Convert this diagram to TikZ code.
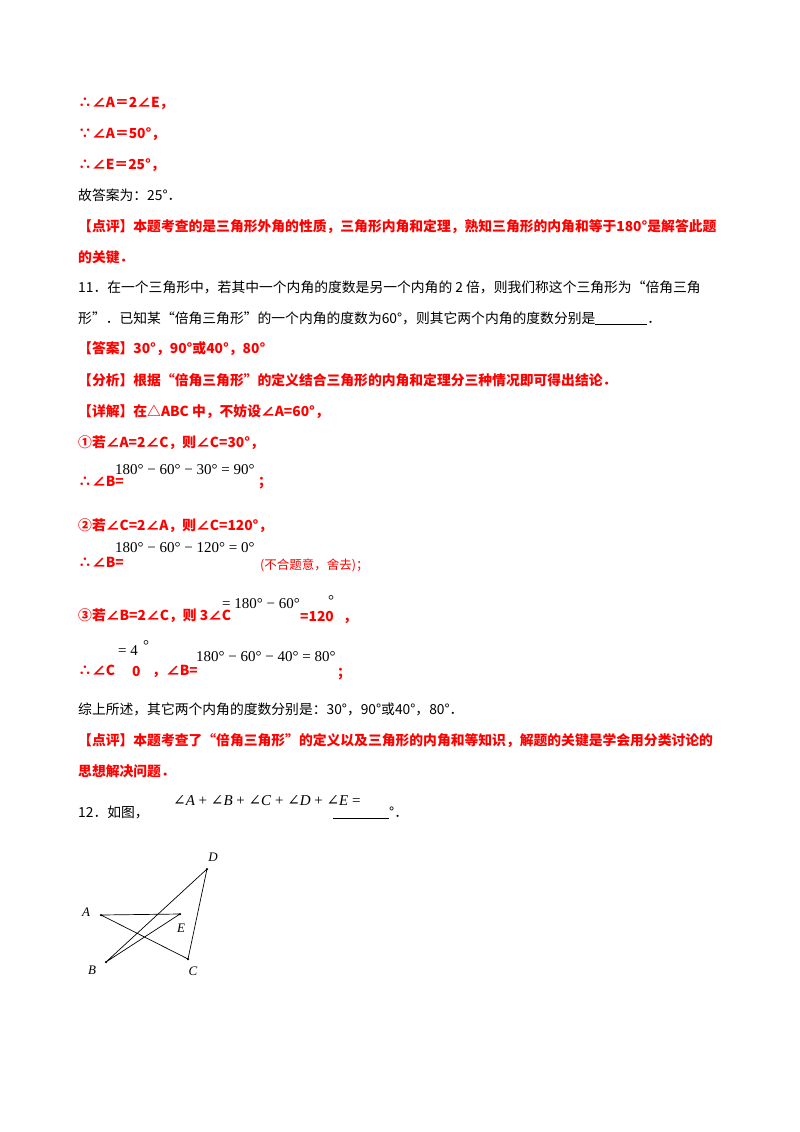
\documentclass[tikz,border=0pt]{standalone}
\usepackage{fontspec}
\setmainfont{Noto Sans CJK SC}
\newfontfamily\tms{Liberation Serif}
\newfontfamily\djs{DejaVu Serif}
\newcommand{\ang}{{\djs\fontsize{15}{17}\selectfont ∠}}
\begin{document}
\begin{tikzpicture}[x=1pt,y=-1pt,
 t/.style={anchor=base west,inner sep=0pt,font=\fontsize{13.8}{16}\selectfont},
 r/.style={t,text=red,font=\fontsize{13.8}{16}\selectfont\bfseries},
 m/.style={anchor=base west,inner sep=0pt,font=\tms\fontsize{15}{18}\selectfont},
 pt/.style={circle,fill,inner sep=0pt,minimum size=2.5pt},
 lb/.style={inner sep=0pt,font=\tms\itshape\fontsize{13}{15}\selectfont}]
\useasboundingbox (0,0) rectangle (800,1132);
\node[r] (l1) at (78,107) {∴∠\textit{A}＝2∠\textit{E}，};
\node[r] (l2) at (78,138) {∵∠\textit{A}＝50°，};
\node[r] (l3) at (78,169) {∴∠\textit{E}＝25°，};
\node[t] (l4) at (78,200) {故答案为：25°．};
\node[r] (l5) at (78,231) {【点评】本题考查的是三角形外角的性质，三角形内角和定理，熟知三角形的内角和等于180°是解答此题};
\node[r] (l6) at (78,262) {的关键．};
\node[t] (q1) at (78,292) {11．在一个三角形中，若其中一个内角的度数是另一个内角的 2 倍，则我们称这个三角形为“倍角三角};
\node[t] (q2) at (78,323) {形”．已知某“倍角三角形”的一个内角的度数为60°，则其它两个内角的度数分别是\rule[-2pt]{52pt}{0.8pt}．};
\node[r] (a1) at (78,353) {【答案】30°，90°或40°，80°};
\node[r] (a2) at (78,385) {【分析】根据“倍角三角形”的定义结合三角形的内角和定理分三种情况即可得出结论．};
\node[r] (a3) at (78,416) {【详解】在△ABC 中，不妨设∠A=60°，};
\node[r] (a4) at (78,447) {①若∠A=2∠C，则∠C=30°，};
\node[m] (f1) at (115,474) {180° − 60° − 30° = 90°};
\node[r] (a5) at (78,486) {∴∠B=};
\node[r] (a5b) at (258,486) {；};
\node[r] (a6) at (78,530) {②若∠C=2∠A，则∠C=120°，};
\node[m] (f2) at (115,552) {180° − 60° − 120° = 0°};
\node[r] (a7) at (78,567) {∴∠B=};
\node[t,text=red,font=\fontsize{12.5}{15}\selectfont] (a7b) at (260,569) {(不合题意，舍去)；};
\node[m] (f3) at (222,608) {= 180° − 60°};
\node[r] (a8) at (78,620) {③若∠B=2∠C，则 3∠C};
\node[r] (a8b) at (300,621) {=120};
\node[m] (a8c) at (328,605) {°};
\node[r] (a8d) at (343,621) {，};
\node[r] (a9) at (78,675) {∴∠C};
\node[m] (f4) at (118,655) {= 4};
\node[r] (a9b) at (132,676) {0};
\node[m] (a9c) at (143,650) {°};
\node[r] (a9d) at (152,675) {，∠B=};
\node[m] (f5) at (196,661) {180° − 60° − 40° = 80°};
\node[r] (a9e) at (337,677) {；};
\node[t] (s1) at (78,714) {综上所述，其它两个内角的度数分别是：30°，90°或40°，80°．};
\node[r] (s2) at (78,745) {【点评】本题考查了“倍角三角形”的定义以及三角形的内角和等知识，解题的关键是学会用分类讨论的};
\node[r] (s3) at (78,776) {思想解决问题．};
\node[t] (q12) at (78,817) {12．如图，};
\node[m] (f6) at (173,805) {\ang\textit{A} + \ang\textit{B} + \ang\textit{C} + \ang\textit{D} + \ang\textit{E} =};
\node[t] (q12b) at (333,817) {\rule[-2pt]{56pt}{0.8pt}°．};
\node[pt] (A) at (101,915) {};
\node[pt] (E) at (180,914) {};
\node[pt] (D) at (207,869) {};
\node[pt] (B) at (106,962) {};
\node[pt] (C) at (188,959) {};
\draw[line width=0.7pt] (A.center)--(E.center) (A.center)--(C.center) (B.center)--(E.center) (B.center)--(D.center) (D.center)--(C.center);
\node[lb] (LA) at (86,912) {A};
\node[lb] (LE) at (181,928) {E};
\node[lb] (LD) at (213,857) {D};
\node[lb] (LB) at (92,970) {B};
\node[lb] (LC) at (193,971) {C};
\end{tikzpicture}
\end{document}
